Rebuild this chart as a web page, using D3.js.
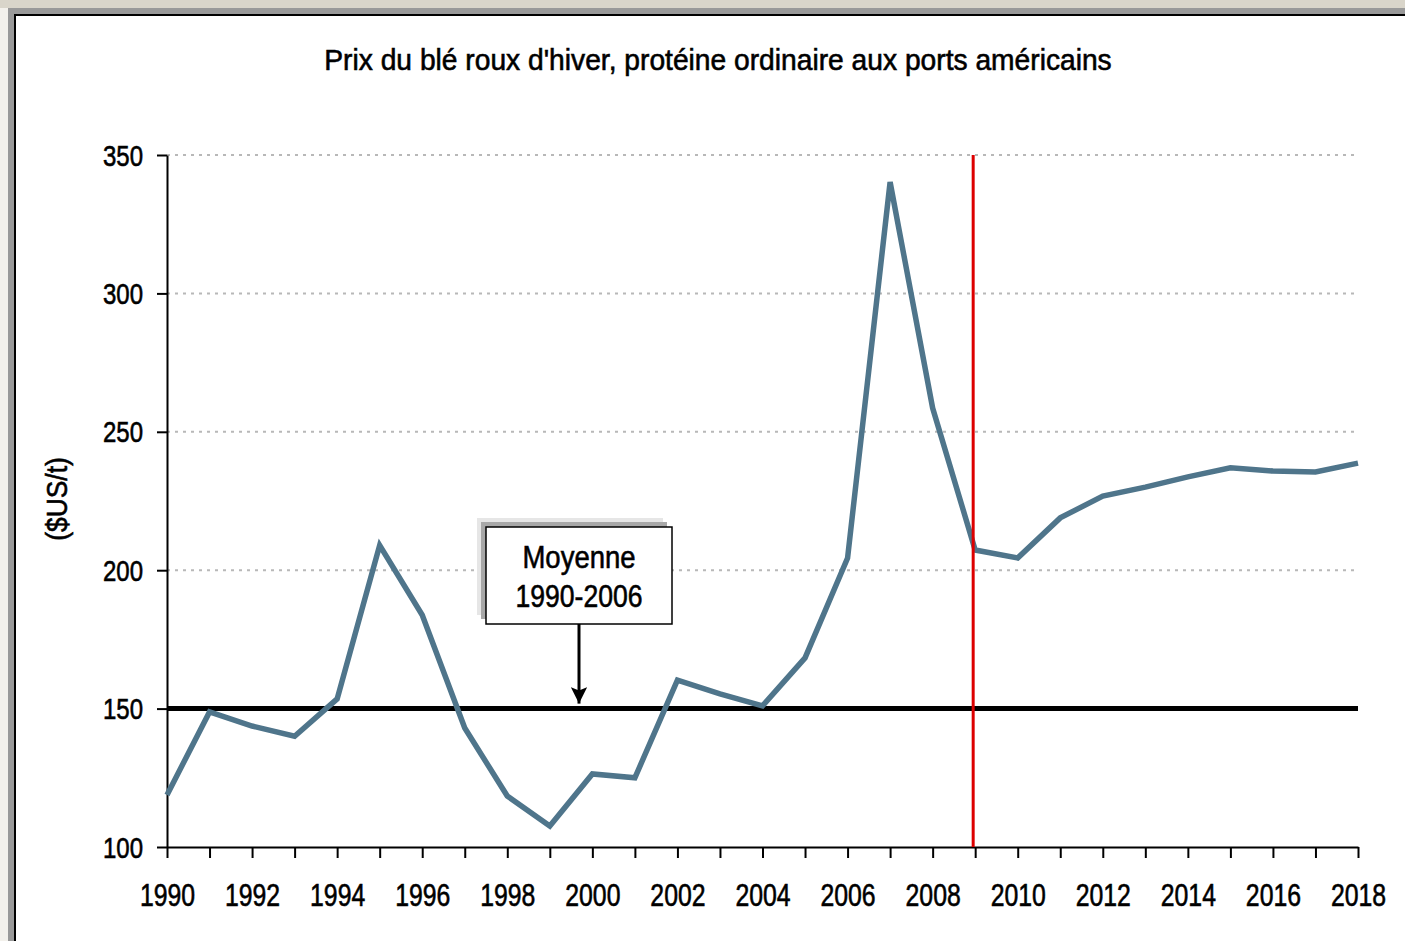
<!DOCTYPE html>
<html>
<head>
<meta charset="utf-8">
<script src="https://cdn.jsdelivr.net/npm/d3@7"></script>
<style>
  html, body { margin: 0; padding: 0; background: #f3f1ec; overflow: hidden; }
  svg { display: block; font-family: "Liberation Sans", Arial, sans-serif; }
  svg text { stroke: #000; stroke-width: 0.6px; }
</style>
</head>
<body>
<div id="chart"></div>
<script>
// data
const years = d3.range(1990, 2019);
const prices = [
  118.8, 148.8, 143.7, 140.0, 153.5, 209.0, 183.8, 143.0, 118.4, 107.6,
  126.4, 125.0, 160.3, 155.3, 151.0, 168.3, 204.4, 340.2, 258.6, 207.3,
  204.4, 218.9, 226.8, 230.0, 233.7, 237.0, 235.8, 235.5, 238.7
];
const yTicks = [100, 150, 200, 250, 300, 350];
const gridValues = [200, 250, 300, 350];
const xLabelYears = d3.range(1990, 2019, 2);
const averageValue = 150;
const markerYear = 2009;
const title = "Prix du blé roux d'hiver, protéine ordinaire aux ports américains";
const yLabel = "($US/t)";
const noteLines = ["Moyenne", "1990-2006"];

const W = 1405, H = 941;
const margin = { left: 167, right: 47, top: 155, bottom: 94 };
const FS = 30;

const svg = d3.select("#chart").append("svg")
    .attr("width", W)
    .attr("height", H);

// squeeze a text horizontally around (x, y) to fake a condensed face
function narrowText(sel, x, y, k, extra) {
    sel.attr("x", 0).attr("y", 0)
       .attr("transform", `translate(${x},${y}) ${extra || ""} scale(${k},1)`);
}

// background strip + frame
svg.append("rect").attr("x", 0).attr("y", 0).attr("width", W).attr("height", 8).attr("fill", "#d9d5ca");
svg.append("rect").attr("x", 8).attr("y", 8).attr("width", W).attr("height", H).attr("fill", "#999999");
svg.append("rect").attr("x", 14).attr("y", 14).attr("width", W).attr("height", H).attr("fill", "#000");
svg.append("rect").attr("x", 16).attr("y", 16).attr("width", W).attr("height", H).attr("fill", "#fff");

const x = d3.scaleLinear()
    .domain([1990, 2018])
    .range([margin.left, W - margin.right]);

const y = d3.scaleLinear()
    .domain([100, 350])
    .range([H - margin.bottom, margin.top]);

// title
svg.append("text")
    .attr("text-anchor", "middle")
    .style("font-size", FS + "px")
    .attr("fill", "#000")
    .text(title)
    .call(narrowText, 718, 70, 0.94);

// dotted gridlines
svg.append("g").selectAll("line")
    .data(gridValues)
    .enter().append("line")
    .attr("x1", x(1990)).attr("x2", x(2018))
    .attr("y1", d => y(d)).attr("y2", d => y(d))
    .attr("stroke", "#b8b8b8")
    .attr("stroke-width", 2)
    .attr("stroke-dasharray", "3,5");

// y axis
const yAxis = svg.append("g")
    .attr("transform", `translate(${x(1990)},0)`)
    .call(d3.axisLeft(y).tickValues(yTicks).tickSize(10).tickPadding(12).tickSizeOuter(0));
yAxis.selectAll("text")
    .style("font-size", FS + "px")
    .attr("fill", "#000")
    .attr("dy", null)
    .each(function () { d3.select(this).call(narrowText, -24, 10, 0.8); });
yAxis.selectAll("path, line").attr("stroke", "#000").attr("stroke-width", 2);

// x axis: tick each year, label every two years
const xAxis = svg.append("g")
    .attr("transform", `translate(0,${y(100)})`)
    .call(d3.axisBottom(x).tickValues(years).tickSize(11).tickSizeOuter(0)
        .tickFormat(d => xLabelYears.includes(d) ? String(d) : ""));
xAxis.selectAll("text")
    .style("font-size", "31px")
    .attr("fill", "#000")
    .attr("dy", null)
    .each(function () { d3.select(this).call(narrowText, 0, 59, 0.8); });
xAxis.selectAll("path, line").attr("stroke", "#000").attr("stroke-width", 2);

// y label
svg.append("text")
    .attr("text-anchor", "middle")
    .style("font-size", FS + "px")
    .attr("fill", "#000")
    .text(yLabel)
    .call(narrowText, 67, 499, 0.88, "rotate(-90)");

// average line
svg.append("line")
    .attr("x1", x(1990)).attr("x2", x(2018))
    .attr("y1", y(averageValue)).attr("y2", y(averageValue))
    .attr("stroke", "#000")
    .attr("stroke-width", 5);

// price line
svg.append("path")
    .datum(years.map((yr, i) => [yr, prices[i]]))
    .attr("fill", "none")
    .attr("stroke", "#4f758b")
    .attr("stroke-width", 5.5)
    .attr("stroke-linejoin", "miter")
    .attr("d", d3.line().x(d => x(d[0])).y(d => y(d[1])));

// red marker line
svg.append("line")
    .attr("x1", x(markerYear) - 2).attr("x2", x(markerYear) - 2)
    .attr("y1", y(350)).attr("y2", y(100))
    .attr("stroke", "#dd0000")
    .attr("stroke-width", 3);

// annotation box with shadow
const noteX = 579;
const box = { x: 486, y: 527, w: 186, h: 97 };
svg.append("rect")
    .attr("x", box.x - 9).attr("y", box.y - 9)
    .attr("width", box.w).attr("height", box.h)
    .attr("fill", "#e6e6e6");
svg.append("rect")
    .attr("x", box.x - 5).attr("y", box.y - 5)
    .attr("width", box.w).attr("height", box.h)
    .attr("fill", "#a8a8a8");
svg.append("rect")
    .attr("x", box.x).attr("y", box.y)
    .attr("width", box.w).attr("height", box.h)
    .attr("fill", "#fff")
    .attr("stroke", "#000")
    .attr("stroke-width", 1.5);
svg.append("g").selectAll("text")
    .data(noteLines)
    .enter().append("text")
    .attr("text-anchor", "middle")
    .style("font-size", "32px")
    .attr("fill", "#000")
    .text(d => d)
    .each(function (d, i) { d3.select(this).call(narrowText, noteX, 568 + i * 39, i === 0 ? 0.86 : 0.83); });

// arrow
svg.append("defs").append("marker")
    .attr("id", "head")
    .attr("viewBox", "0 0 10 10")
    .attr("refX", 10).attr("refY", 5)
    .attr("markerWidth", 5.5).attr("markerHeight", 5.5)
    .attr("markerUnits", "strokeWidth")
    .attr("orient", "auto")
    .append("path")
    .attr("d", "M0,0 L10,5 L0,10 L2,5 Z")
    .attr("fill", "#000");
svg.append("line")
    .attr("x1", noteX).attr("x2", noteX)
    .attr("y1", box.y + box.h).attr("y2", y(averageValue) - 5)
    .attr("stroke", "#000")
    .attr("stroke-width", 3)
    .attr("marker-end", "url(#head)");
</script>
</body>
</html>
